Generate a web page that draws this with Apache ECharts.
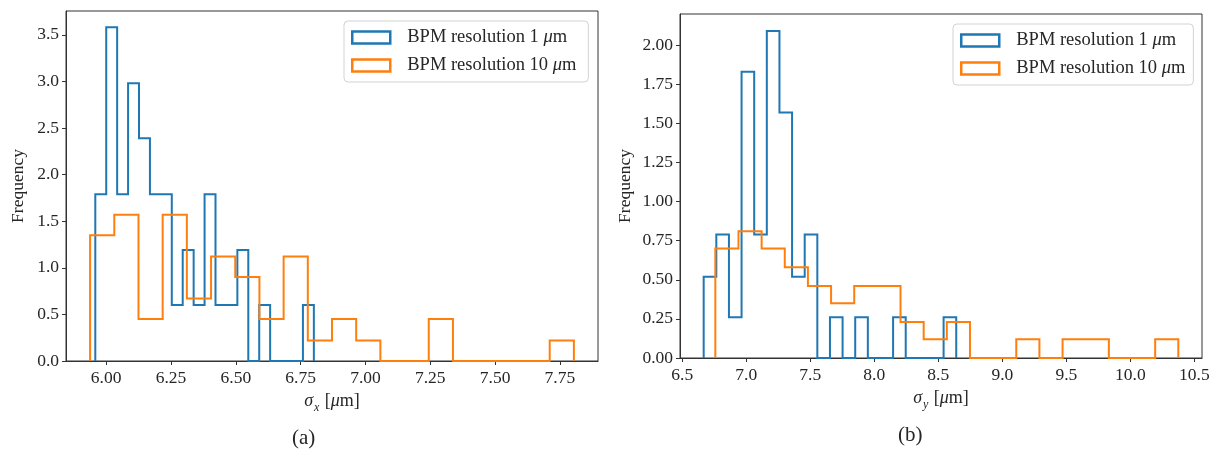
<!DOCTYPE html>
<html><head><meta charset="utf-8">
<script src="https://cdn.jsdelivr.net/npm/echarts@6/dist/echarts.min.js"></script>
<style>html,body{margin:0;padding:0;background:#fff}#c{width:1221px;height:458px}</style>
</head><body><div id="c"></div>
<script>
// ---------- data ----------
const seriesNames = ['BPM resolution 1 μm', 'BPM resolution 10 μm'];
const colors = ['#1f77b4', '#ff7f0e'];

// panel (a): sigma_x histograms (20 bins each, density)
const aBlueRange = [5.958, 6.801];
const aBlueHeights = [1.79, 3.58, 1.79, 2.98, 2.39, 1.79, 1.79, 0.60, 1.19, 0.60,
                      1.79, 0.60, 0.60, 1.19, 0, 0.60, 0, 0, 0, 0.60];
const aOrangeRange = [5.938, 7.804];
const aOrangeHeights = [1.35, 1.57, 0.45, 1.57, 0.67, 1.12, 0.90, 0.45, 1.12, 0.22,
                        0.45, 0.22, 0, 0, 0.45, 0, 0, 0, 0, 0.22];
const aXTicks = [6.00, 6.25, 6.50, 6.75, 7.00, 7.25, 7.50, 7.75];
const aYTicks = [0.0, 0.5, 1.0, 1.5, 2.0, 2.5, 3.0, 3.5];
const aXLimits = [5.845, 7.897];
const aYLimits = [0, 3.755];

// panel (b): sigma_y histograms
const bBlueRange = [6.667, 8.640];
const bBlueHeights = [0.52, 0.79, 0.26, 1.83, 0.79, 2.09, 1.57, 0.52, 0.79, 0,
                      0.26, 0, 0.26, 0, 0, 0.26, 0, 0, 0, 0.26];
const bOrangeRange = [6.758, 10.375];
const bOrangeHeights = [0.70, 0.81, 0.70, 0.58, 0.46, 0.35, 0.46, 0.46, 0.23, 0.12,
                        0.23, 0, 0, 0.12, 0, 0.12, 0.12, 0, 0, 0.12];
const bXTicks = [6.5, 7.0, 7.5, 8.0, 8.5, 9.0, 9.5, 10.0, 10.5];
const bYTicks = [0, 0.25, 0.5, 0.75, 1.0, 1.25, 1.5, 1.75, 2.0];
const bXLimits = [6.482, 10.560];
const bYLimits = [0, 2.199];

// ---------- helpers ----------
const FONT = 'Liberation Serif';
const TXT = '#262626';

function stepPath(range, heights) {
  const n = heights.length, w = (range[1] - range[0]) / n;
  const pts = [[range[0], 0]];
  for (let i = 0; i < n; i++) {
    const x0 = range[0] + i * w, x1 = range[0] + (i + 1) * w;
    pts.push([x0, heights[i]], [x1, heights[i]]);
  }
  pts.push([range[1], 0]);
  return pts;
}

function xAxis(gi, lim, ticks, dec, sub) {
  return {
    type: 'value', gridIndex: gi, min: lim[0], max: lim[1],
    axisLine: {show: true, onZero: false, lineStyle: {color: '#333', width: 1}},
    axisTick: {show: true, length: 4, customValues: ticks, lineStyle: {color: '#333'}},
    axisLabel: {customValues: ticks, margin: 8, fontFamily: FONT, fontSize: 17.5, color: TXT,
                formatter: v => v.toFixed(dec)},
    splitLine: {show: false},
    name: '{i|σ}{s|' + sub + '}{n| [}{i|μ}{n|m]}',
    nameLocation: 'middle', nameGap: 25,
    nameTextStyle: {
      rich: {
        n: {fontFamily: FONT, fontSize: 18, color: TXT, verticalAlign: 'bottom', padding: [0, 0, 4, 0], lineHeight: 22},
        i: {fontFamily: FONT, fontSize: 18, fontStyle: 'italic', color: TXT, verticalAlign: 'bottom', padding: [0, 0, 4, 0], lineHeight: 22},
        s: {fontFamily: FONT, fontSize: 12, fontStyle: 'italic', color: TXT, verticalAlign: 'bottom', padding: [0, 1, 0, 1], lineHeight: 22}
      }
    }
  };
}

function yAxis(gi, lim, ticks, dec) {
  return {
    type: 'value', gridIndex: gi, min: lim[0], max: lim[1],
    axisLine: {show: true, lineStyle: {color: '#333', width: 1}},
    axisTick: {show: true, length: 4, customValues: ticks, lineStyle: {color: '#333'}},
    axisLabel: {customValues: ticks, margin: 7, fontFamily: FONT, fontSize: 17.5, color: TXT,
                formatter: v => v.toFixed(dec)},
    splitLine: {show: false},
    name: 'Frequency', nameLocation: 'middle', nameGap: dec === 1 ? 39 : 46, nameRotate: 90,
    nameTextStyle: {fontFamily: FONT, fontSize: 17.5, color: TXT}
  };
}

function histSeries(name, gi, range, heights, color) {
  return {
    type: 'line', name: name, xAxisIndex: gi, yAxisIndex: gi,
    data: stepPath(range, heights),
    showSymbol: false, symbol: 'none', smooth: false, clip: false,
    lineStyle: {color: color, width: 2, join: 'miter'},
    itemStyle: {color: color},
    emphasis: {disabled: true},
    animation: false
  };
}

function legend(left, top, padRight) {
  return {
    orient: 'vertical', left: left, top: top,
    padding: [7, padRight, 7, 7],
    itemWidth: 38, itemHeight: 12, itemGap: 9,
    icon: 'rect',
    backgroundColor: 'rgba(255,255,255,0.85)', borderColor: '#d3d3d3', borderWidth: 1, borderRadius: 4,
    selectedMode: false,
    textStyle: {fontFamily: FONT, fontSize: 18.5, color: TXT, lineHeight: 19, padding: [0, 0, 0, 12],
      rich: {
        n: {fontFamily: FONT, fontSize: 18.5, color: TXT},
        i: {fontFamily: FONT, fontSize: 18.5, color: TXT, fontStyle: 'italic'}
      }},
    formatter: name => {
      const p = name.split(' μm');
      return '{n|' + p[0] + ' }{i|μ}{n|m}';
    },
    data: seriesNames.map((n, k) => ({
      name: n, icon: 'rect',
      itemStyle: {color: '#ffffff', borderColor: colors[k], borderWidth: 2.5}
    }))
  };
}

// ---------- chart ----------
const chart = echarts.init(document.getElementById('c'), null, {renderer: 'canvas'});
chart.setOption({
  backgroundColor: '#ffffff',
  animation: false,
  grid: [
    {left: 66, top: 11, width: 532, height: 350, show: true, borderColor: '#333', borderWidth: 1, backgroundColor: 'transparent'},
    {left: 680, top: 14, width: 522, height: 344, show: true, borderColor: '#333', borderWidth: 1, backgroundColor: 'transparent'}
  ],
  xAxis: [xAxis(0, aXLimits, aXTicks, 2, 'x'), xAxis(1, bXLimits, bXTicks, 1, 'y')],
  yAxis: [yAxis(0, aYLimits, aYTicks, 1), yAxis(1, bYLimits, bYTicks, 2)],
  legend: [legend(344, 21, 12), legend(953, 24, 8)],
  series: [
    histSeries(seriesNames[0], 0, aBlueRange, aBlueHeights, colors[0]),
    histSeries(seriesNames[1], 0, aOrangeRange, aOrangeHeights, colors[1]),
    histSeries(seriesNames[0], 1, bBlueRange, bBlueHeights, colors[0]),
    histSeries(seriesNames[1], 1, bOrangeRange, bOrangeHeights, colors[1])
  ],
  graphic: [
    {type: 'text', left: 292, top: 428, style: {text: '(a)', font: '21px "Liberation Serif"', fill: TXT}},
    {type: 'text', left: 898, top: 425, style: {text: '(b)', font: '21px "Liberation Serif"', fill: TXT}}
  ]
});
</script>
</body></html>
